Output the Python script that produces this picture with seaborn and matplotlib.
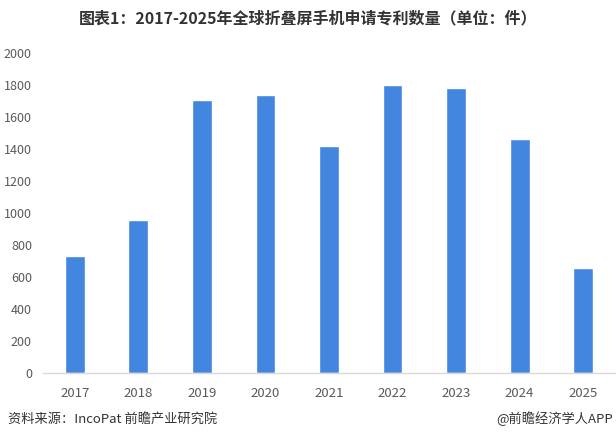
import matplotlib
matplotlib.use("Agg")
import matplotlib.pyplot as plt
import seaborn as sns
import pandas as pd

years = ["2017", "2018", "2019", "2020", "2021", "2022", "2023", "2024", "2025"]
patents = [733, 958, 1707, 1738, 1420, 1800, 1782, 1462, 657]
yticks = [0, 200, 400, 600, 800, 1000, 1200, 1400, 1600, 1800, 2000]

title = "图表1：2017-2025年全球折叠屏手机申请专利数量（单位：件）"
source = "资料来源：IncoPat 前瞻产业研究院"
credit = "@前瞻经济学人APP"

sns.set_theme(style="white")
plt.rcParams["font.family"] = ["Noto Sans CJK SC", "DejaVu Sans"]

df = pd.DataFrame({"year": years, "count": patents})

fig = plt.figure(figsize=(6.16, 4.41), dpi=100)
ax = fig.add_axes([43 / 616, (441 - 373) / 441, (615 - 43) / 616, 320 / 441])

sns.barplot(data=df, x="year", y="count", color="#4286E0", width=0.31,
            saturation=1, ax=ax)

ax.set_ylim(0, 2000)
ax.set_xlim(-0.5, len(years) - 0.5)
ax.set_yticks(yticks)
ax.set_yticklabels([str(v) for v in yticks])
ax.set_xlabel("")
ax.set_ylabel("")
for s in ["top", "right", "left"]:
    ax.spines[s].set_visible(False)
ax.spines["bottom"].set_color("#d9d9d9")
ax.spines["bottom"].set_linewidth(1)
ax.tick_params(axis="both", length=0, colors="#595959", labelsize=9.5)
ax.tick_params(axis="y", labelsize=9, pad=8)
ax.tick_params(axis="x", pad=10)

fig.text(0.5, 1 - 18 / 441, title, ha="center", va="center",
         fontsize=11.5, fontweight="bold", color="#333333")
fig.text(8 / 616, 1 - 419 / 441, source, ha="left", va="center",
         fontsize=9.5, color="#333333")
fig.text(613 / 616, 1 - 419 / 441, credit, ha="right", va="center",
         fontsize=9.5, color="#333333")

fig.savefig("out.png", dpi=100)
